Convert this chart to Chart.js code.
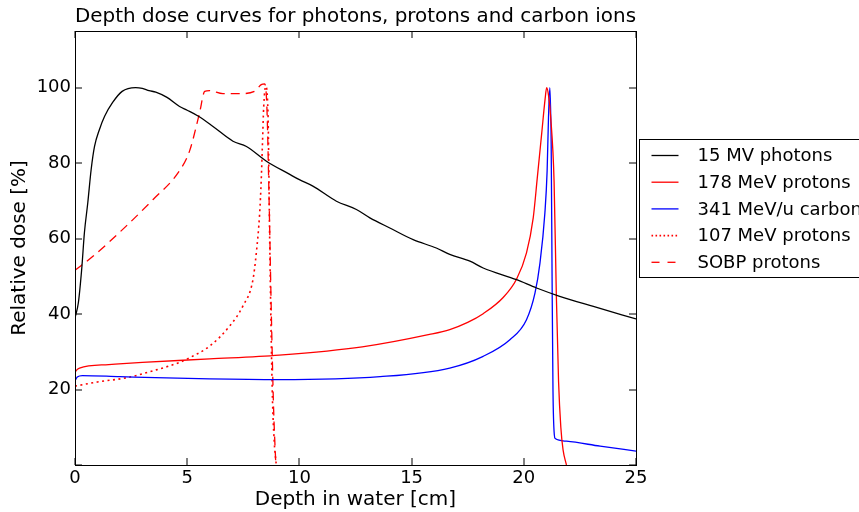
<!DOCTYPE html>
<html>
<head>
<meta charset="utf-8">
<script src="https://cdn.jsdelivr.net/npm/chart.js@4.4.0/dist/chart.umd.min.js"></script>
<style>
  html, body { margin: 0; padding: 0; background: #fff; }
  canvas { display: block; }
</style>
</head>
<body>
<canvas id="depthDoseChart" width="859" height="512"></canvas>
<script>
// depth in water [cm] and relative dose [%]
const photonDepth = [0, 0.15, 0.3, 0.42, 0.57, 0.72, 0.87, 1.09, 1.32, 1.67, 2.1, 2.7, 3.0, 3.3, 3.6, 4.1, 4.66, 5.0, 5.5, 6.15, 7.04, 7.64, 8.53, 9.57, 10.0, 10.6, 11.65, 12.54, 13.14, 14.03, 15.07, 16.1, 16.7, 17.6, 18.19, 19.68, 20.57, 21.6, 23.1, 25];
const photonDose = [39, 43, 52, 61.6, 69.5, 78.3, 84.4, 88.9, 92.4, 96, 99, 100, 99.8, 99.2, 98.8, 97.4, 95, 94, 92.4, 89.7, 85.8, 84.4, 80.5, 77, 75.6, 73.9, 69.9, 67.7, 65.5, 62.8, 59.7, 57.5, 55.8, 54, 52.2, 49.1, 46.9, 44.7, 42, 38.7];

const proton178Depth = [0, 0.05, 0.2, 1.5, 3, 6, 9.1, 12.8, 15.8, 16.7, 17.5, 18.19, 19.08, 19.68, 20.12, 20.42, 20.6, 20.8, 20.95, 21.02, 21.1, 21.2, 21.35, 21.45, 21.55, 21.65, 21.75, 21.9];
const proton178Dose = [24.5, 25, 25.7, 26.6, 27.2, 28.1, 29.1, 31.3, 34.6, 35.9, 37.8, 40.1, 44.4, 49.3, 56.2, 65.5, 76, 88, 97, 100, 98, 92, 75, 45, 22, 10, 4, 0];

const carbonDepth = [0, 0.1, 0.33, 2, 6, 9.1, 13.6, 16.7, 18.19, 19.38, 20.12, 20.5, 20.72, 20.94, 21.04, 21.1, 21.16, 21.22, 21.26, 21.3, 21.36, 21.4, 21.9, 23.4, 25];
const carbonDose = [22.3, 23.3, 23.7, 23.4, 22.8, 22.6, 23.4, 25.7, 28.8, 33.2, 38.5, 45.6, 53.5, 66.8, 78, 92, 100, 85, 50, 20, 8, 7, 6.3, 5, 3.7];

const proton107Depth = [0, 1, 2.28, 3.5, 4.66, 5.1, 6.0, 6.89, 7.48, 7.93, 8.08, 8.23, 8.3, 8.35, 8.41, 8.5, 8.6, 8.68, 8.75, 8.8, 8.88, 8.97];
const proton107Dose = [20.9, 22, 23.1, 25, 27.2, 28.4, 31.5, 36.8, 42.1, 49.1, 56.2, 66.8, 75.6, 84.4, 95, 100.3, 93.3, 58, 31.5, 17.4, 6, 0];

const sobpDepth = [0, 0.8, 2.28, 3.47, 4.59, 5.1, 5.55, 5.78, 6.0, 6.59, 7.34, 8.0, 8.3, 8.45, 8.55, 8.65, 8.75, 8.85, 8.95];
const sobpDose = [51.6, 55.3, 63.3, 70.3, 77.4, 83.1, 93.3, 99, 99.2, 98.4, 98.4, 99, 100.8, 101, 95, 70, 40, 15, 0];

const xTicks = [0, 5, 10, 15, 20, 25];
const yTicks = [0, 20, 40, 60, 80, 100];

const FONT = 'DejaVu Sans';

function toPoints(xs, ys) {
    return xs.map((x, i) => ({ x: x, y: ys[i] }));
}

// box round the plot with matplotlib-like inward ticks on all four sides
const frameTicks = {
    id: 'frameTicks',
    afterDatasetsDraw(chart) {
        const { ctx, chartArea: a, scales } = chart;
        const len = 7;
        ctx.save();
        ctx.strokeStyle = '#000';
        ctx.lineWidth = 1;
        ctx.beginPath();
        scales.x.ticks.forEach(t => {
            const px = Math.round(scales.x.getPixelForValue(t.value));
            ctx.moveTo(px, a.bottom); ctx.lineTo(px, a.bottom - len);
            ctx.moveTo(px, a.top); ctx.lineTo(px, a.top + len);
        });
        scales.y.ticks.forEach(t => {
            const py = Math.round(scales.y.getPixelForValue(t.value));
            ctx.moveTo(a.left, py); ctx.lineTo(a.left + len, py);
            ctx.moveTo(a.right, py); ctx.lineTo(a.right - len, py);
        });
        ctx.stroke();
        ctx.strokeRect(Math.round(a.left) + 0.5, Math.round(a.top) + 0.5,
            Math.round(a.right - a.left), Math.round(a.bottom - a.top));
        ctx.restore();
    }
};

// legend box sitting over the right edge of the plot
const sideLegend = {
    id: 'sideLegend',
    afterDraw(chart) {
        const { ctx, chartArea: a } = chart;
        const left = Math.round(a.right) + 3.5;
        const top = 139.5;
        const rowH = 26.7;
        ctx.save();
        ctx.fillStyle = '#fff';
        ctx.strokeStyle = '#000';
        ctx.lineWidth = 1;
        ctx.fillRect(left, top, 260, 138);
        ctx.strokeRect(left, top, 260, 138);
        ctx.font = '18px "' + FONT + '"';
        ctx.textBaseline = 'middle';
        ctx.fillStyle = '#000';
        chart.data.datasets.forEach((ds, i) => {
            const y = top + 16 + i * rowH;
            ctx.setLineDash(ds.legendDash || []);
            ctx.strokeStyle = ds.borderColor;
            ctx.lineWidth = ds.borderWidth;
            ctx.beginPath();
            ctx.moveTo(left + 12, y);
            ctx.lineTo(left + 39, y);
            ctx.stroke();
            ctx.setLineDash([]);
            ctx.fillText(ds.label, left + 58, y + 1);
        });
        ctx.restore();
    }
};

new Chart(document.getElementById('depthDoseChart'), {
    type: 'line',
    data: {
        datasets: [
            { label: '15 MV photons', data: toPoints(photonDepth, photonDose), borderColor: '#000000', borderWidth: 1.3 },
            { label: '178 MeV protons', data: toPoints(proton178Depth, proton178Dose), borderColor: '#ff0000', borderWidth: 1.3 },
            { label: '341 MeV/u carbon ions', data: toPoints(carbonDepth, carbonDose), borderColor: '#0000ff', borderWidth: 1.3 },
            { label: '107 MeV protons', data: toPoints(proton107Depth, proton107Dose), borderColor: '#ff0000', borderWidth: 1.6, borderDash: [2, 3.5], legendDash: [1.6, 2.4] },
            { label: 'SOBP protons', data: toPoints(sobpDepth, sobpDose), borderColor: '#ff0000', borderWidth: 1.3, borderDash: [9, 6], legendDash: [8, 8] }
        ]
    },
    options: {
        responsive: false,
        animation: false,
        layout: { padding: { top: 0, left: 0, right: 223, bottom: 0 } },
        elements: {
            point: { radius: 0 },
            line: { cubicInterpolationMode: 'monotone', fill: false }
        },
        plugins: {
            legend: { display: false },
            tooltip: { enabled: false },
            title: {
                display: true,
                fullSize: false,
                text: 'Depth dose curves for photons, protons and carbon ions',
                color: '#000',
                font: { family: FONT, size: 20, weight: 'normal' },
                padding: { top: 5, bottom: 2 }
            }
        },
        scales: {
            x: {
                type: 'linear',
                min: 0,
                max: 25,
                grid: { display: false, drawTicks: false },
                border: { display: false },
                ticks: { color: '#000', font: { family: FONT, size: 18 }, padding: 3, maxRotation: 0 },
                afterBuildTicks: s => { s.ticks = xTicks.map(v => ({ value: v })); },
                afterFit: s => { s.height = 47; },
                title: {
                    display: true,
                    text: 'Depth in water [cm]',
                    color: '#000',
                    font: { family: FONT, size: 20 },
                    padding: { top: 0, bottom: 0 }
                }
            },
            y: {
                type: 'linear',
                min: 0,
                max: 115,
                grid: { display: false, drawTicks: false },
                border: { display: false },
                ticks: {
                    color: '#000',
                    font: { family: FONT, size: 18 },
                    padding: 4,
                    callback: v => (v === 0 ? '' : v)
                },
                afterBuildTicks: s => { s.ticks = yTicks.map(v => ({ value: v })); },
                afterFit: s => { s.width = 75; },
                title: {
                    display: true,
                    text: 'Relative dose [%]',
                    color: '#000',
                    font: { family: FONT, size: 20 },
                    padding: { top: 8, bottom: 0 }
                }
            }
        }
    },
    plugins: [frameTicks, sideLegend]
});
</script>
</body>
</html>
